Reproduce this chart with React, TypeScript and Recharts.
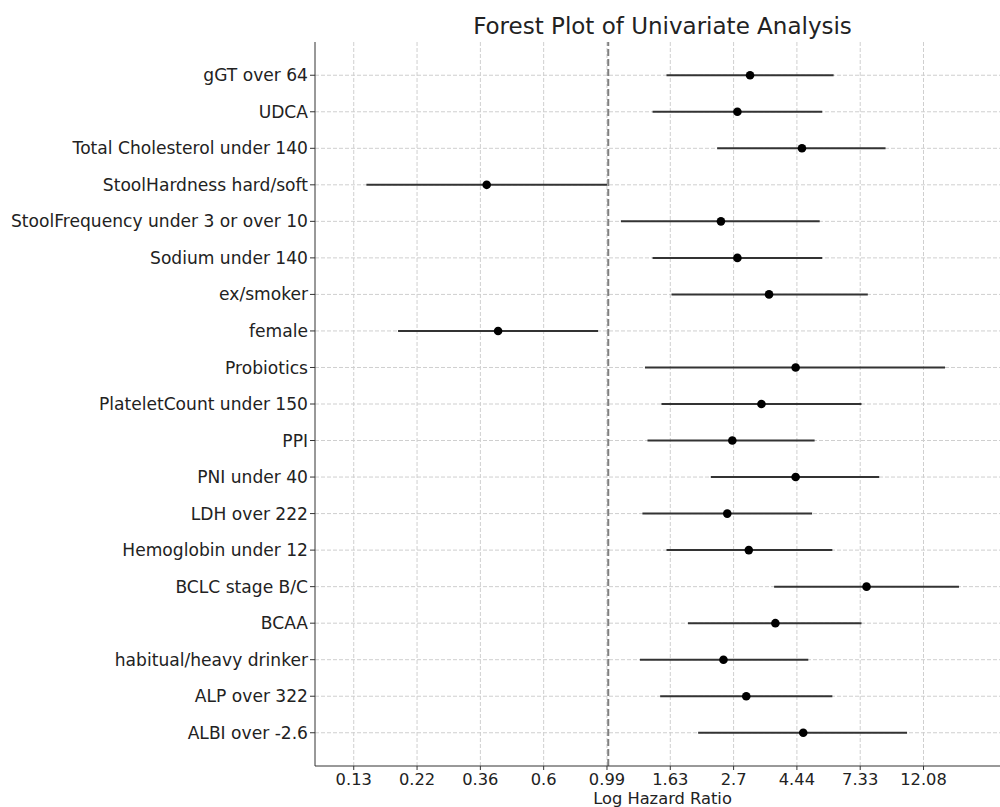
import {
  ErrorBar,
  ReferenceLine,
  Scatter,
  ScatterChart,
  XAxis,
  YAxis,
} from "recharts";

// factors listed top to bottom, values on the log hazard ratio scale
const factors = [
  "gGT over 64",
  "UDCA",
  "Total Cholesterol under 140",
  "StoolHardness hard/soft",
  "StoolFrequency under 3 or over 10",
  "Sodium under 140",
  "ex/smoker",
  "female",
  "Probiotics",
  "PlateletCount under 150",
  "PPI",
  "PNI under 40",
  "LDH over 222",
  "Hemoglobin under 12",
  "BCLC stage B/C",
  "BCAA",
  "habitual/heavy drinker",
  "ALP over 322",
  "ALBI over -2.6",
];
const logHR = [1.12, 1.02, 1.53, -0.96, 0.89, 1.02, 1.27, -0.87, 1.48, 1.21, 0.98, 1.48, 0.94, 1.11, 2.04, 1.32, 0.91, 1.09, 1.54];
const ciLow = [0.46, 0.35, 0.86, -1.91, 0.1, 0.35, 0.5, -1.66, 0.29, 0.42, 0.31, 0.81, 0.27, 0.46, 1.31, 0.63, 0.25, 0.41, 0.71];
const ciHigh = [1.78, 1.69, 2.19, -0.01, 1.67, 1.69, 2.05, -0.08, 2.66, 2.0, 1.63, 2.14, 1.61, 1.77, 2.77, 2.0, 1.58, 1.77, 2.36];

const xTickValues = [-2.01, -1.51, -1.01, -0.51, -0.01, 0.49, 0.99, 1.49, 1.99, 2.49];
const xTickLabels = ["0.13", "0.22", "0.36", "0.6", "0.99", "1.63", "2.7", "4.44", "7.33", "12.08"];

const FONT = "'DejaVu Sans', sans-serif";
const n = factors.length;

const data = factors.map((name, i) => ({
  name,
  row: n - 1 - i,
  est: logHR[i],
  err: [logHR[i] - ciLow[i], ciHigh[i] - logHR[i]],
}));

const rowTicks = factors.map((_, i) => i);

const Dot = (props: any) => <circle cx={props.cx} cy={props.cy} r={4.3} fill="#000" />;

export default function App() {
  return (
    <div style={{ position: "relative", width: 1000, height: 807, overflow: "hidden", fontFamily: FONT }}>
      <style>{"body{margin:0}"}</style>
      <ScatterChart width={1010} height={807} margin={{ top: 42, right: 0, bottom: 0, left: 0 }}>
        <XAxis
          type="number"
          dataKey="est"
          domain={[-2.316, 3.173]}
          allowDataOverflow
          ticks={xTickValues}
          tickFormatter={(v: number) => xTickLabels[xTickValues.indexOf(v)] ?? ""}
          interval={0}
          height={41}
          tickSize={4}
          tickMargin={3}
          stroke="#333"
          tick={{ fill: "#222", fontSize: 16.3, fontFamily: FONT }}
          label={(p: any) => {
            const vb = p.viewBox;
            return (
              <text x={vb.x + vb.width / 2} y={vb.y + 38} textAnchor="middle" fill="#222" fontSize={16.3} fontFamily={FONT}>
                Log Hazard Ratio
              </text>
            );
          }}
        />
        <YAxis
          type="number"
          dataKey="row"
          domain={[-0.91, 18.91]}
          allowDataOverflow
          ticks={rowTicks}
          tickFormatter={(v: number) => factors[n - 1 - v] ?? ""}
          interval={0}
          width={315}
          tickSize={5}
          tickMargin={2}
          stroke="#333"
          tick={{ fill: "#222", fontSize: 17.1, fontFamily: FONT }}
        />
        {rowTicks.map((r) => (
          <ReferenceLine key={`h${r}`} y={r} stroke="#cfcfcf" strokeDasharray="4 2" />
        ))}
        {xTickValues.map((t) => (
          <ReferenceLine key={`v${t}`} x={t} stroke="#cfcfcf" strokeDasharray="4 2" />
        ))}
        <ReferenceLine x={0} stroke="#808080" strokeWidth={2} strokeDasharray="7 3" />
        <Scatter data={data} shape={Dot} isAnimationActive={false}>
          <ErrorBar dataKey="err" direction="x" width={0} stroke="#333" strokeWidth={2} isAnimationActive={false} />
        </Scatter>
      </ScatterChart>
      <svg width={1000} height={50} style={{ position: "absolute", left: 0, top: 0, pointerEvents: "none" }}>
        <text x={662.5} y={34} textAnchor="middle" fill="#222" fontSize={23} fontFamily={FONT}>
          Forest Plot of Univariate Analysis
        </text>
      </svg>
    </div>
  );
}
